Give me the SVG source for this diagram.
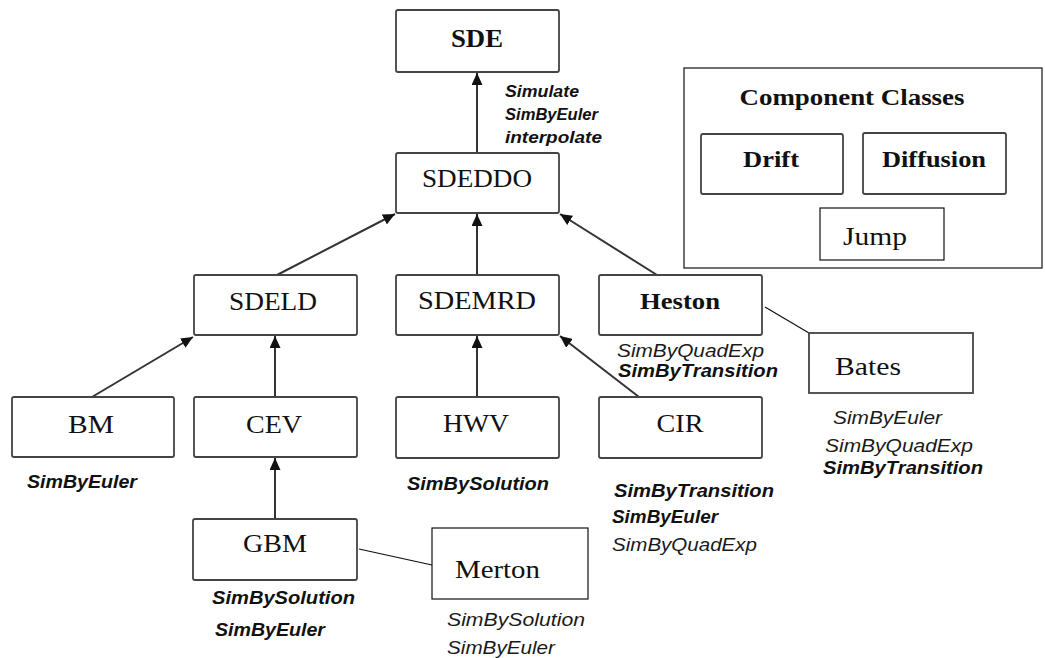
<svg xmlns="http://www.w3.org/2000/svg" width="1045" height="658" viewBox="0 0 1045 658">
<style>
.box{fill:#fff;stroke:#444;stroke-width:1.8}
.tbox{fill:#fff;stroke:#111;stroke-width:1.2}
.t{font-family:"Liberation Serif","Times New Roman",serif;font-size:25px;fill:#111}
.tb{font-family:"Liberation Serif","Times New Roman",serif;font-size:24px;font-weight:bold;fill:#111}
.m{font-family:"Liberation Sans",Arial,sans-serif;font-style:italic;font-size:18px;fill:#1a1a1a}
.mb{font-family:"Liberation Sans",Arial,sans-serif;font-style:italic;font-weight:bold;font-size:18px;fill:#111}
.s{font-size:16px}
.c{stroke:#333;stroke-width:2;fill:none}
.thin{stroke:#111;stroke-width:1.2;fill:none}
</style>
<defs>
<marker id="arr" markerUnits="userSpaceOnUse" markerWidth="13" markerHeight="11" refX="12" refY="5.5" orient="auto">
<path d="M0,0 L12,5.5 L0,11 z" fill="#111"/>
</marker>
</defs>
<rect width="1045" height="658" fill="#fff"/>

<g id="connectors">
<line class="c" x1="477" y1="153" x2="477" y2="73" marker-end="url(#arr)"/>
<line class="c" x1="277" y1="275" x2="395" y2="214" marker-end="url(#arr)"/>
<line class="c" x1="477" y1="275" x2="477" y2="214" marker-end="url(#arr)"/>
<line class="c" x1="657" y1="275" x2="560" y2="214" marker-end="url(#arr)"/>
<line class="c" x1="92" y1="397" x2="193" y2="337" marker-end="url(#arr)"/>
<line class="c" x1="275" y1="397" x2="275" y2="336" marker-end="url(#arr)"/>
<line class="c" x1="275" y1="519" x2="275" y2="458" marker-end="url(#arr)"/>
<line class="c" x1="477" y1="397" x2="477" y2="336" marker-end="url(#arr)"/>
<line class="c" x1="639" y1="397" x2="560" y2="336" marker-end="url(#arr)"/>
<line class="thin" x1="765" y1="307" x2="809" y2="333"/>
<line class="thin" x1="359" y1="549" x2="432" y2="565"/>
</g>

<g id="SDE">
<rect class="box" x="396" y="10" width="163" height="62" rx="2"/>
<text class="t" x="477" y="47" text-anchor="middle" font-weight="bold" textLength="52" lengthAdjust="spacingAndGlyphs">SDE</text>
<text class="mb s" x="505" y="97" textLength="74" lengthAdjust="spacingAndGlyphs">Simulate</text>
<text class="mb s" x="505" y="120" textLength="93" lengthAdjust="spacingAndGlyphs">SimByEuler</text>
<text class="mb s" x="505" y="143" textLength="97" lengthAdjust="spacingAndGlyphs">interpolate</text>
</g>

<g id="SDEDDO">
<rect class="box" x="396" y="153" width="163" height="60" rx="2"/>
<text class="t" x="477" y="187" text-anchor="middle" textLength="110" lengthAdjust="spacingAndGlyphs">SDEDDO</text>
</g>

<g id="SDELD">
<rect class="box" x="194" y="275" width="163" height="60" rx="2"/>
<text class="t" x="273" y="310" text-anchor="middle" textLength="88" lengthAdjust="spacingAndGlyphs">SDELD</text>
</g>

<g id="SDEMRD">
<rect class="box" x="396" y="275" width="163" height="60" rx="2"/>
<text class="t" x="477" y="309" text-anchor="middle" textLength="118" lengthAdjust="spacingAndGlyphs">SDEMRD</text>
</g>

<g id="Heston">
<rect class="box" x="599" y="275" width="163" height="60" rx="2"/>
<text class="tb" x="680" y="309" text-anchor="middle" textLength="80" lengthAdjust="spacingAndGlyphs">Heston</text>
<text class="m" x="617" y="357" textLength="147" lengthAdjust="spacingAndGlyphs">SimByQuadExp</text>
<text class="mb" x="618" y="377" textLength="160" lengthAdjust="spacingAndGlyphs" stroke="#fff" stroke-width="4" paint-order="stroke">SimByTransition</text>
</g>

<g id="BM">
<rect class="box" x="12" y="397" width="162" height="60" rx="2"/>
<text class="t" x="91" y="433" text-anchor="middle" textLength="46" lengthAdjust="spacingAndGlyphs">BM</text>
<text class="mb" x="27" y="488" textLength="110" lengthAdjust="spacingAndGlyphs">SimByEuler</text>
</g>

<g id="CEV">
<rect class="box" x="194" y="397" width="163" height="60" rx="2"/>
<text class="t" x="274" y="433" text-anchor="middle" textLength="56" lengthAdjust="spacingAndGlyphs">CEV</text>
</g>

<g id="HWV">
<rect class="box" x="396" y="397" width="163" height="61" rx="2"/>
<text class="t" x="476" y="432" text-anchor="middle" textLength="66" lengthAdjust="spacingAndGlyphs">HWV</text>
<text class="mb" x="407" y="490" textLength="142" lengthAdjust="spacingAndGlyphs">SimBySolution</text>
</g>

<g id="CIR">
<rect class="box" x="599" y="397" width="163" height="61" rx="2"/>
<text class="t" x="680" y="432" text-anchor="middle" textLength="47" lengthAdjust="spacingAndGlyphs">CIR</text>
<text class="mb" x="614" y="497" textLength="160" lengthAdjust="spacingAndGlyphs">SimByTransition</text>
<text class="mb" x="612" y="523" textLength="106" lengthAdjust="spacingAndGlyphs">SimByEuler</text>
<text class="m" x="612" y="551" textLength="145" lengthAdjust="spacingAndGlyphs">SimByQuadExp</text>
</g>

<g id="GBM">
<rect class="box" x="193" y="519" width="164" height="61" rx="2"/>
<text class="t" x="275" y="552" text-anchor="middle" textLength="64" lengthAdjust="spacingAndGlyphs">GBM</text>
<text class="mb" x="212" y="604" textLength="143" lengthAdjust="spacingAndGlyphs">SimBySolution</text>
<text class="mb" x="215" y="636" textLength="110" lengthAdjust="spacingAndGlyphs">SimByEuler</text>
</g>

<g id="Merton">
<rect class="tbox" x="432" y="528" width="156" height="71"/>
<text class="t" x="455" y="578" textLength="85" lengthAdjust="spacingAndGlyphs">Merton</text>
<text class="m" x="447" y="626" textLength="138" lengthAdjust="spacingAndGlyphs">SimBySolution</text>
<text class="m" x="447" y="654" textLength="108" lengthAdjust="spacingAndGlyphs">SimByEuler</text>
</g>

<g id="Bates">
<rect class="box" x="809" y="333" width="164" height="60"/>
<text class="t" x="835" y="375" textLength="66" lengthAdjust="spacingAndGlyphs">Bates</text>
<text class="m" x="833" y="424" textLength="109" lengthAdjust="spacingAndGlyphs">SimByEuler</text>
<text class="m" x="825" y="452" textLength="148" lengthAdjust="spacingAndGlyphs">SimByQuadExp</text>
<text class="mb" x="823" y="474" textLength="160" lengthAdjust="spacingAndGlyphs">SimByTransition</text>
</g>

<g id="ComponentClasses">
<rect class="tbox" x="684" y="68" width="358" height="200" stroke-width="1.6"/>
<text class="tb" x="852" y="105" text-anchor="middle" font-size="21" textLength="225" lengthAdjust="spacingAndGlyphs">Component Classes</text>
</g>

<g id="Drift">
<rect class="box" x="701" y="134" width="142" height="60" rx="2"/>
<text class="tb" x="771" y="167" text-anchor="middle" textLength="56" lengthAdjust="spacingAndGlyphs">Drift</text>
</g>

<g id="Diffusion">
<rect class="box" x="863" y="133" width="143" height="61" rx="2"/>
<text class="tb" x="934" y="167" text-anchor="middle" textLength="104" lengthAdjust="spacingAndGlyphs">Diffusion</text>
</g>

<g id="Jump">
<rect class="tbox" x="820" y="208" width="124" height="52"/>
<text class="t" x="875" y="245" text-anchor="middle" textLength="64" lengthAdjust="spacingAndGlyphs">Jump</text>
</g>
</svg>
